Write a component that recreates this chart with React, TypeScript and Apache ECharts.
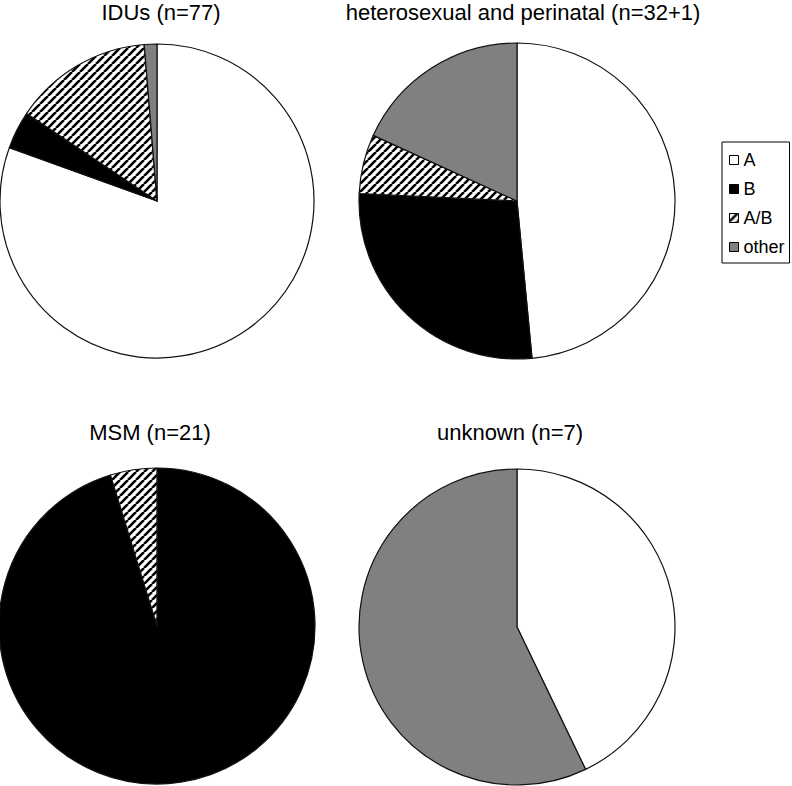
import React, { useEffect, useRef } from "react";
import * as echarts from "echarts";

const categories = ["A", "B", "A/B", "other"];
const pieTitles = [
  "IDUs (n=77)",
  "heterosexual and perinatal (n=32+1)",
  "MSM (n=21)",
  "unknown (n=7)",
];
const idusValues = [62, 3, 11, 1];
const heteroValues = [16, 9, 2, 6];
const msmValues = [0, 20, 1, 0];
const unknownValues = [3, 0, 0, 4];

function makeHatch(): HTMLCanvasElement {
  const s = 8;
  const c = document.createElement("canvas");
  c.width = s;
  c.height = s;
  const ctx = c.getContext("2d")!;
  ctx.fillStyle = "#ffffff";
  ctx.fillRect(0, 0, s, s);
  ctx.strokeStyle = "#000000";
  ctx.lineWidth = 2.6;
  for (const k of [-s, 0, s]) {
    ctx.beginPath();
    ctx.moveTo(k, s);
    ctx.lineTo(k + s, 0);
    ctx.stroke();
  }
  return c;
}

export default function App() {
  const ref = useRef<HTMLDivElement>(null);
  useEffect(() => {
    document.body.style.margin = "0";
    if (!ref.current) return;
    const chart = echarts.init(ref.current, undefined, { renderer: "svg" });
    const hatch = makeHatch();
    const fills: any[] = [
      "#ffffff",
      "#000000",
      { image: hatch, repeat: "repeat" },
      "#808080",
    ];
    const allValues = [idusValues, heteroValues, msmValues, unknownValues];
    const centers = [
      [157, 201],
      [517, 201],
      [157, 626],
      [517, 627],
    ];
    const radii = [157, 158, 158, 158];
    const titlePos = [
      [161, 12],
      [523, 12],
      [150, 432],
      [510, 432],
    ];
    const series = allValues.map((vals, si) => ({
      type: "pie",
      name: pieTitles[si],
      center: centers[si],
      radius: radii[si],
      startAngle: 90,
      clockwise: true,
      silent: true,
      avoidLabelOverlap: false,
      label: { show: false },
      labelLine: { show: false },
      emphasis: { disabled: true },
      data: vals
        .map((v, i) => ({
          name: categories[i],
          value: v,
          itemStyle: {
            color: fills[i],
            borderColor: "#111111",
            borderWidth: 1.2,
          },
        }))
        .filter((d) => d.value > 0),
    }));
    chart.setOption({
      animation: false,
      backgroundColor: "#ffffff",
      legend: {
        orient: "vertical",
        left: 722,
        top: 142,
        padding: [9, 5, 7, 7],
        itemGap: 11,
        itemWidth: 9,
        itemHeight: 9,
        icon: "rect",
        borderColor: "#000000",
        borderWidth: 1,
        selectedMode: false,
        data: categories,
        textStyle: {
          fontFamily: "Liberation Sans, Arial, sans-serif",
          fontSize: 18,
          color: "#000000",
          padding: [0, 0, 0, 0],
        },
        itemStyle: { borderColor: "#000000", borderWidth: 1 },
      },
      graphic: pieTitles.map((t, i) => ({
        type: "text",
        x: titlePos[i][0],
        y: titlePos[i][1],
        silent: true,
        style: {
          text: t,
          fill: "#000000",
          font: "22px 'Liberation Sans', Arial, sans-serif",
          textAlign: "center",
          textVerticalAlign: "middle",
        },
      })),
      series,
    });
    return () => chart.dispose();
  }, []);
  return <div ref={ref} style={{ width: 792, height: 786 }} />;
}
